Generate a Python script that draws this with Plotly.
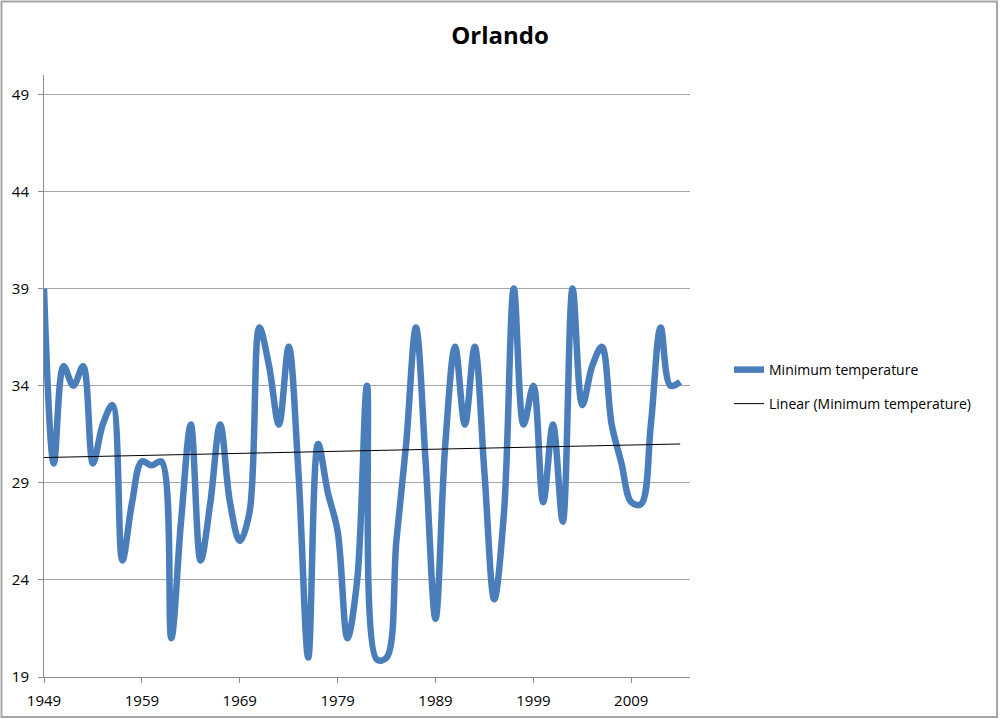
import plotly.graph_objects as go

years = [1949, 1950, 1951, 1952, 1953, 1954, 1955, 1956, 1957, 1958,
         1959, 1960, 1961, 1962, 1963, 1964, 1965, 1966, 1967, 1968,
         1969, 1970, 1971, 1972, 1973, 1974, 1975, 1976, 1977, 1978,
         1979, 1980, 1981, 1982, 1983, 1984, 1985, 1986, 1987, 1988,
         1989, 1990, 1991, 1992, 1993, 1994, 1995, 1996, 1997, 1998,
         1999, 2000, 2001, 2002, 2003, 2004, 2005, 2006, 2007, 2008,
         2009, 2010, 2011, 2012, 2013, 2014]
min_temp = [39, 30, 35, 34, 35, 30, 32, 33, 25, 28,
            30.1, 29.9, 30.1, 21, 27, 32, 25, 28, 32, 28,
            26, 27.5, 37, 35, 32, 36, 29.5, 20, 31, 28.5,
            26.5, 21, 24, 34, 19.9, 20, 26, 31, 37, 30,
            22, 31, 36, 32, 36, 29.5, 23, 27.5, 39, 32,
            34, 28, 32, 27, 39, 33, 35, 36, 32, 30,
            28, 27.9, 32, 37, 34, 34.2]
# linear trendline as drawn in the reference (start and end values)
trend_years = [1949, 2014]
trend_values = [30.3, 31.0]
x_ticks = [1949, 1959, 1969, 1979, 1989, 1999, 2009]
y_ticks = [19, 24, 29, 34, 39, 44, 49]

series_name = "Minimum temperature"
trend_name = "Linear (Minimum temperature)"

FONT = "Open Sans"
fig = go.Figure()
fig.add_trace(go.Scatter(
    x=years, y=min_temp, mode="lines", name=series_name,
    line=dict(color="#4a7ebb", width=6.5, shape="spline", smoothing=1.0),
    legend="legend",
))
fig.add_trace(go.Scatter(
    x=trend_years, y=trend_values, mode="lines", name=trend_name,
    line=dict(color="#000000", width=1),
    legend="legend2",
))

W, H = 1000, 719
L, R, T, B = 44, 310, 75, 42
pw, ph = W - L - R, H - T - B

def px(xp):
    return (xp - L) / pw

def py(yp):
    return (H - B - yp) / ph

fig.update_layout(
    width=W, height=H,
    margin=dict(l=L, r=R, t=T, b=B, autoexpand=False),
    paper_bgcolor="white", plot_bgcolor="white",
    font=dict(family=FONT, size=14, color="#000000"),
    title=dict(text="<b>Orlando</b>", x=0.5, xanchor="center",
               y=1 - 36 / H, yanchor="middle",
               font=dict(family=FONT, size=24, color="#000000")),
    xaxis=dict(range=[1949, 2015], tickmode="array", tickvals=x_ticks,
               showgrid=False, showline=True, linecolor="#8c8c8c", linewidth=1,
               ticks="outside", ticklen=5, tickcolor="#8c8c8c", automargin=False,
               ticklabelstandoff=5,
               tickfont=dict(family=FONT, size=15), zeroline=False),
    yaxis=dict(range=[19, 50], tickmode="array", tickvals=y_ticks,
               showgrid=True, gridcolor="#a6a6a6", gridwidth=1,
               showline=True, linecolor="#8c8c8c", linewidth=1,
               ticks="outside", ticklen=5, tickcolor="#8c8c8c", automargin=False,
               ticklabelstandoff=6,
               tickfont=dict(family=FONT, size=15), zeroline=False),
    legend=dict(x=px(729), y=py(370), xanchor="left", yanchor="middle",
                bgcolor="rgba(0,0,0,0)", font=dict(family=FONT, size=14)),
    legend2=dict(x=px(729), y=py(404), xanchor="left", yanchor="middle",
                 bgcolor="rgba(0,0,0,0)", font=dict(family=FONT, size=14)),
    shapes=[dict(type="rect", xref="paper", yref="paper",
                 x0=px(1.5), x1=px(997), y0=py(717), y1=py(1.5),
                 line=dict(color="#a6a6a6", width=2), fillcolor="rgba(0,0,0,0)",
                 layer="below")],
    showlegend=True,
)

fig.write_html("out.html", config={"displayModeBar": False},
               post_script="document.body.style.margin='0';document.body.style.overflow='hidden';")
